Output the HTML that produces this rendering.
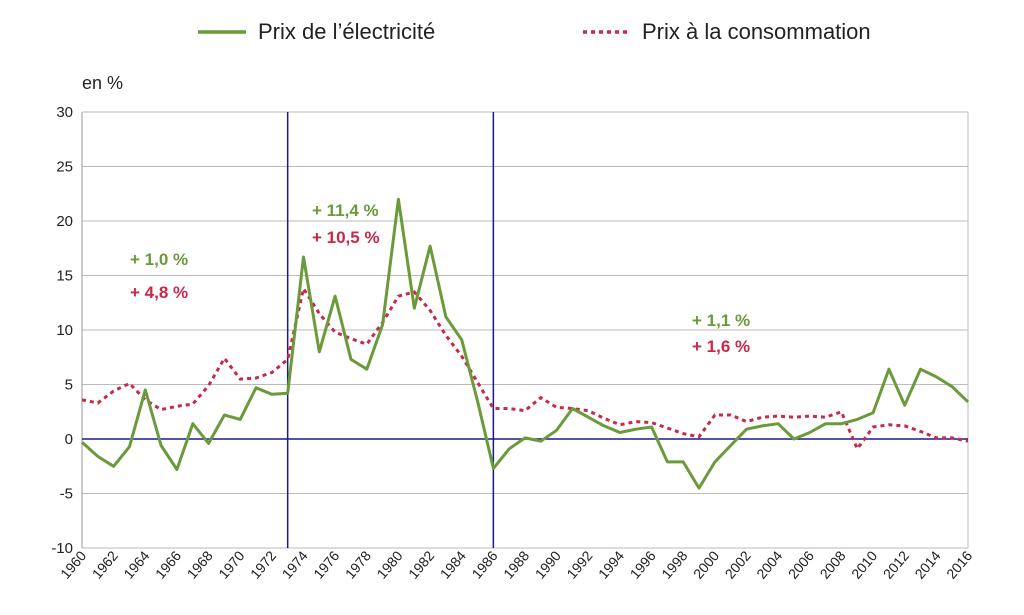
<!DOCTYPE html><html><head><meta charset="utf-8"><style>body{margin:0;background:#fff}svg{font-family:"Liberation Sans",sans-serif}</style></head><body>
<svg id="s" width="1024" height="610" xmlns="http://www.w3.org/2000/svg">
<line x1="198" y1="32" x2="246" y2="32" stroke="#6a9a3a" stroke-width="3.5"/>
<text x="258" y="39" font-size="22" fill="#222">Prix de l’électricité</text>
<line x1="583" y1="32" x2="631" y2="32" stroke="#c8284a" stroke-width="3.5" stroke-dasharray="4,4"/>
<text x="642" y="39" font-size="22" fill="#222">Prix à la consommation</text>
<text x="82" y="89" font-size="18" fill="#222">en %</text>
<g id="g"></g>
<text x="130" y="265" font-size="17" font-weight="bold" fill="#6a9a3a">+ 1,0 %</text>
<text x="130" y="298" font-size="17" font-weight="bold" fill="#c8284a">+ 4,8 %</text>
<text x="312" y="216" font-size="17" font-weight="bold" fill="#6a9a3a">+ 11,4 %</text>
<text x="312" y="243" font-size="17" font-weight="bold" fill="#c8284a">+ 10,5 %</text>
<text x="692" y="326" font-size="17" font-weight="bold" fill="#6a9a3a">+ 1,1 %</text>
<text x="692" y="352" font-size="17" font-weight="bold" fill="#c8284a">+ 1,6 %</text>
</svg>
<script>
var E=[-0.3,-1.6,-2.5,-0.7,4.5,-0.6,-2.8,1.4,-0.4,2.2,1.8,4.7,4.1,4.2,16.7,8.0,13.1,7.3,6.4,10.5,22.0,12.0,17.7,11.2,9.1,3.5,-2.7,-0.9,0.1,-0.2,0.8,2.8,2.0,1.2,0.6,0.9,1.1,-2.1,-2.1,-4.5,-2.1,-0.6,0.9,1.2,1.4,0,0.6,1.4,1.4,1.8,2.4,6.4,3.1,6.4,5.7,4.8,3.4];
var C=[3.6,3.3,4.4,5.1,3.6,2.7,3.0,3.2,4.9,7.4,5.5,5.6,6.1,7.3,13.8,11.5,9.8,9.2,8.7,10.7,13.1,13.5,11.8,9.5,7.6,5.2,2.8,2.8,2.6,3.8,2.9,2.8,2.6,1.9,1.3,1.6,1.5,1.0,0.5,0.2,2.2,2.2,1.6,2.0,2.1,2.0,2.1,2.0,2.5,-0.9,1.1,1.3,1.2,0.7,0.1,0.1,-0.2];
function X(i){return 82+i*886/56}function Y(v){return 439-v*10.9}
var h='';
for(var v=-10;v<=30;v+=5){var y=Y(v);if(v!=0)h+='<line x1="82" x2="968" y1="'+y+'" y2="'+y+'" stroke="#bbb" stroke-width="1"/>';h+='<text x="73" y="'+(y+5)+'" font-size="15" text-anchor="end" fill="#222">'+v+'</text>';}
h+='<line x1="82" x2="82" y1="112" y2="548" stroke="#999"/><line x1="968" x2="968" y1="112" y2="548" stroke="#bbb"/>';
h+='<line x1="82" x2="968" y1="439" y2="439" stroke="#1a1a8c" stroke-width="1.5"/>';
h+='<line x1="'+X(13)+'" x2="'+X(13)+'" y1="112" y2="548" stroke="#1a1a8c" stroke-width="1.5"/><line x1="'+X(26)+'" x2="'+X(26)+'" y1="112" y2="548" stroke="#1a1a8c" stroke-width="1.5"/>';
for(var i=0;i<=56;i+=2){var x=X(i);h+='<text transform="translate('+(x+5)+',556) rotate(-50)" font-size="14" text-anchor="end" fill="#222">'+(1960+i)+'</text>';}
function P(a){return a.map(function(v,i){return X(i).toFixed(1)+','+Y(v).toFixed(1)}).join(' ')}
h+='<polyline points="'+P(C)+'" fill="none" stroke="#c8284a" stroke-width="3" stroke-dasharray="4,4"/>';
h+='<polyline points="'+P(E)+'" fill="none" stroke="#6a9a3a" stroke-width="3" stroke-linejoin="round"/>';
document.getElementById('g').innerHTML=h;
</script></body></html>
